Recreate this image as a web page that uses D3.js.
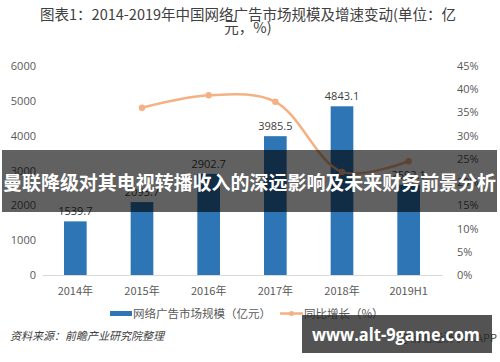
<!DOCTYPE html>
<html>
<head>
<meta charset="utf-8">
<script src="https://cdn.jsdelivr.net/npm/d3@7"></script>
<style>
  body { margin: 0; background: #fff; }
  text { font-family: "Noto Sans CJK SC", "Noto Sans", sans-serif; }
</style>
</head>
<body>
<div id="chart"></div>
<script>
const width = 500;
const height = 362;

// data
const years = ["2014年", "2015年", "2016年", "2017年", "2018年", "2019H1"];
const marketSize = [1539.7, 2093.7, 2902.7, 3985.5, 4843.1, 2592.1];
const growth = [null, 36.0, 38.7, 37.3, 22.2, 24.5];
const leftTicks = [0, 1000, 2000, 3000, 4000, 5000, 6000];
const rightTicks = [0, 5, 10, 15, 20, 25, 30, 35, 40, 45];

const svg = d3
  .select("#chart")
  .append("svg")
  .attr("width", width)
  .attr("height", height);

// title
svg
  .append("text")
  .attr("x", 248)
  .attr("y", 20)
  .attr("text-anchor", "middle")
  .style("font-size", "14.5px")
  .style("fill", "#404040")
  .text("图表1：2014-2019年中国网络广告市场规模及增速变动(单位：亿");
svg
  .append("text")
  .attr("x", 248)
  .attr("y", 33)
  .attr("text-anchor", "middle")
  .style("font-size", "14.5px")
  .style("fill", "#404040")
  .text("元，%)");

// scales
const x = d3.scaleBand().domain(years).range([42, 442]).paddingInner(0.66).paddingOuter(0.33);
const y = d3.scaleLinear().domain([0, 6000]).range([275, 66]);
const y2 = d3.scaleLinear().domain([0, 45]).range([275, 66]);

// left axis
const leftAxis = svg
  .append("g")
  .attr("transform", "translate(36,0)")
  .call(d3.axisLeft(y).tickValues(leftTicks).tickFormat(d3.format("d")).tickSize(0).tickPadding(0));
leftAxis.select(".domain").remove();
leftAxis
  .selectAll("text")
  .style("font-size", "11px")
  .style("fill", "#595959")
  .style("font-family", "'Open Sans', 'Noto Sans', sans-serif");

// right axis
const rightAxis = svg
  .append("g")
  .attr("transform", "translate(457,0)")
  .call(d3.axisRight(y2).tickValues(rightTicks).tickFormat((d) => d + "%").tickSize(0).tickPadding(0));
rightAxis.select(".domain").remove();
rightAxis
  .selectAll("text")
  .style("font-size", "11px")
  .style("fill", "#595959")
  .style("font-family", "'Open Sans', 'Noto Sans', sans-serif");

// bars
svg
  .selectAll(".bar")
  .data(marketSize)
  .enter()
  .append("rect")
  .attr("class", "bar")
  .attr("x", (d, i) => x(years[i]))
  .attr("y", (d) => y(d))
  .attr("width", x.bandwidth())
  .attr("height", (d) => y(0) - y(d))
  .attr("fill", "#2e75b6");

// bar labels
svg
  .selectAll(".barLabel")
  .data(marketSize)
  .enter()
  .append("text")
  .attr("class", "barLabel")
  .attr("x", (d, i) => x(years[i]) + x.bandwidth() / 2)
  .attr("y", (d) => y(d) - 6)
  .attr("text-anchor", "middle")
  .style("font-size", "11px")
  .style("fill", "#404040")
  .style("font-family", "'Open Sans', 'Noto Sans', sans-serif")
  .text((d) => d.toFixed(1));

// x axis
const xAxis = svg
  .append("g")
  .attr("transform", `translate(0,${y(0)})`)
  .call(d3.axisBottom(x).tickSize(0).tickPadding(12));
xAxis.select(".domain").attr("stroke", "#d9d9d9");
xAxis
  .selectAll("text")
  .style("font-size", "11px")
  .style("fill", "#595959");

// growth line
const growthPoints = growth
  .map((v, i) => ({ year: years[i], value: v }))
  .filter((d) => d.value !== null);

const line = d3
  .line()
  .x((d) => x(d.year) + x.bandwidth() / 2)
  .y((d) => y2(d.value))
  .curve(d3.curveCatmullRom.alpha(0.5));

svg
  .append("path")
  .datum(growthPoints)
  .attr("fill", "none")
  .attr("stroke", "#f4b183")
  .attr("stroke-width", 2.5)
  .attr("d", line);

svg
  .selectAll(".dot")
  .data(growthPoints)
  .enter()
  .append("circle")
  .attr("class", "dot")
  .attr("cx", (d) => x(d.year) + x.bandwidth() / 2)
  .attr("cy", (d) => y2(d.value))
  .attr("r", 3.2)
  .attr("fill", "#f4b183");

// legend
svg.append("rect").attr("x", 110).attr("y", 311).attr("width", 22).attr("height", 5).attr("fill", "#2e75b6");
svg
  .append("text")
  .attr("x", 133)
  .attr("y", 318)
  .style("font-size", "11.5px")
  .style("fill", "#595959")
  .text("网络广告市场规模（亿元）");
svg.append("line").attr("x1", 280).attr("x2", 303).attr("y1", 313.5).attr("y2", 313.5).attr("stroke", "#f4b183").attr("stroke-width", 2.5);
svg.append("circle").attr("cx", 291.5).attr("cy", 313.5).attr("r", 2.5).attr("fill", "#f4b183");
svg
  .append("text")
  .attr("x", 304)
  .attr("y", 318)
  .style("font-size", "11.5px")
  .style("fill", "#595959")
  .text("同比增长（%）");

// source
svg
  .append("text")
  .attr("x", 10)
  .attr("y", 340)
  .style("font-size", "11px")
  .style("font-style", "italic")
  .style("fill", "#404040")
  .text("资料来源：前瞻产业研究院整理");

svg
  .append("text")
  .attr("x", 497)
  .attr("y", 342)
  .attr("text-anchor", "end")
  .style("font-size", "11px")
  .style("fill", "#404040")
  .text("@前瞻经济学人APP");

// overlay banner
svg.append("rect").attr("x", 2).attr("y", 150).attr("width", 495).attr("height", 62).attr("fill", "rgba(0,0,0,0.62)");
svg
  .append("text")
  .attr("x", 3)
  .attr("y", 190)
  .attr("textLength", 493)
  .attr("lengthAdjust", "spacingAndGlyphs")
  .style("font-size", "19px")
  .style("font-weight", "bold")
  .style("fill", "#fff")
  .text("曼联降级对其电视转播收入的深远影响及未来财务前景分析");

// watermark box
svg.append("rect").attr("x", 302).attr("y", 315).attr("width", 190).attr("height", 38).attr("fill", "rgba(40,40,40,0.8)");
svg
  .append("text")
  .attr("x", 312)
  .attr("y", 341)
  .attr("textLength", 168)
  .attr("lengthAdjust", "spacingAndGlyphs")
  .style("font-size", "18px")
  .style("font-weight", "bold")
  .style("font-family", "'Open Sans', 'DejaVu Sans', sans-serif")
  .style("fill", "#fff")
  .text("www.alt-9game.com");
</script>
</body>
</html>
